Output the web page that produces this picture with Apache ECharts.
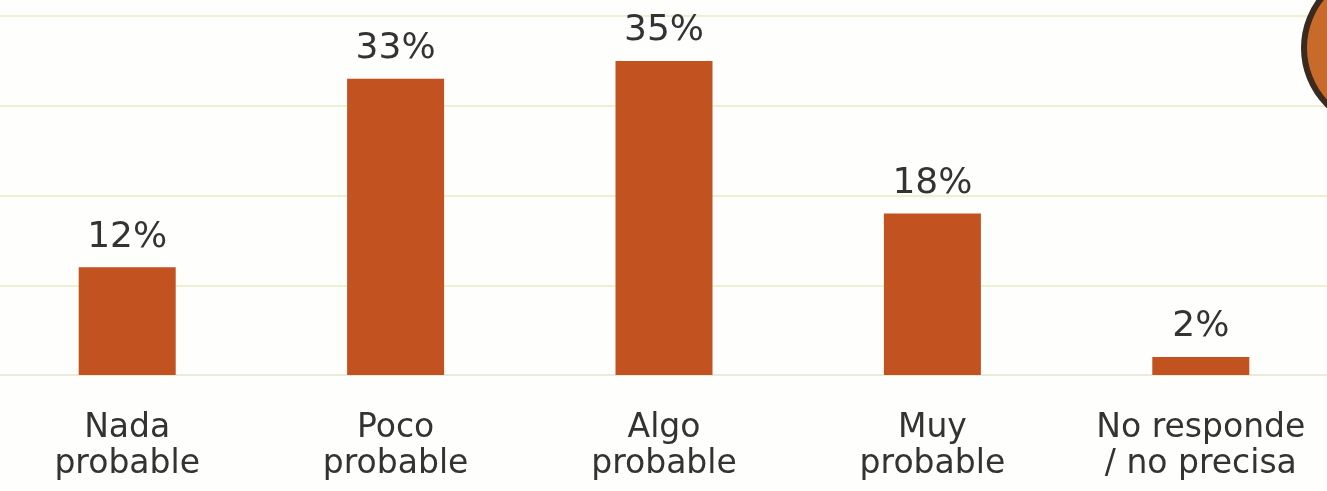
<!DOCTYPE html>
<html>
<head>
<meta charset="utf-8">
<script src="https://cdn.jsdelivr.net/npm/echarts@6/dist/echarts.min.js"></script>
<style>
  html, body { margin: 0; padding: 0; background: #fefefc; overflow: hidden; }
  #chart { width: 1342px; height: 491px; margin-left: -7px; }
</style>
</head>
<body>
<div id="chart"></div>
<script>
// Survey answers and their shares (%)
const categories = ['Nada\nprobable', 'Poco\nprobable', 'Algo\nprobable', 'Muy\nprobable', 'No responde\n/ no precisa'];
const shares = [12, 33, 35, 18, 2];
const axisTicks = [0, 10, 20, 30, 40];

const FONT = '"DejaVu Sans", Verdana, sans-serif';
const chart = echarts.init(document.getElementById('chart'), null, { renderer: 'canvas' });

chart.setOption({
  backgroundColor: '#fefefc',
  animation: false,
  textStyle: { fontFamily: FONT },
  grid: { left: 0, right: 0, top: 16, bottom: 116, containLabel: false },
  xAxis: {
    type: 'category',
    data: categories,
    axisLine: { show: true, lineStyle: { color: '#ebebd9', width: 2 } },
    axisTick: { show: false },
    axisLabel: {
      interval: 0,
      margin: 35,
      fontSize: 33,
      lineHeight: 36,
      color: '#333333',
      fontFamily: FONT
    }
  },
  yAxis: {
    type: 'value',
    min: axisTicks[0],
    max: axisTicks[axisTicks.length - 1],
    interval: 10,
    axisLabel: { show: false },
    axisLine: { show: false },
    axisTick: { show: false },
    splitLine: { lineStyle: { color: '#edf0cf', width: 2 } }
  },
  graphic: [
    {
      // emblem peeking in at the top-right corner
      type: 'circle',
      right: -132,
      top: -35,
      shape: { r: 80 },
      style: { fill: '#c86a2a', stroke: '#3b2a1e', lineWidth: 6 },
      z: 10
    }
  ],
  series: [
    {
      type: 'bar',
      data: shares,
      barWidth: 97,
      itemStyle: { color: '#c2521f' },
      label: {
        show: true,
        position: 'top',
        distance: 12,
        formatter: '{c}%',
        fontSize: 36,
        color: '#333333',
        fontFamily: FONT
      }
    }
  ]
});
</script>
</body>
</html>
